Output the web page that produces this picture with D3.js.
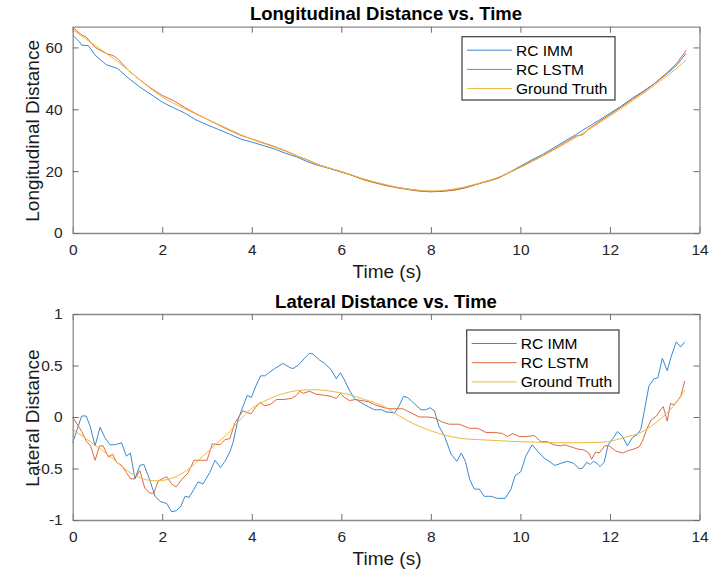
<!DOCTYPE html>
<html>
<head>
<meta charset="utf-8">
<script src="https://cdn.jsdelivr.net/npm/d3@7"></script>
<style>
  body { margin: 0; background: #fff; }
  svg { font-family: "Liberation Sans", Arial, sans-serif; }
</style>
</head>
<body>
<script>
// series names + colours (MATLAB defaults, a bit softened like the thin lines in the original)
const seriesNames = ["RC IMM", "RC LSTM", "Ground Truth"];
const seriesColors = ["#3a89d0", "#dc6a3c", "#eeb93c"];

const timeTicks = [0, 2, 4, 6, 8, 10, 12, 14];
const lonTicks = [0, 20, 40, 60];
const latTicks = [-1, -0.5, 0, 0.5, 1];

// longitudinal distance, [time, value]
const lonImm = [[0,64.0],[0.15,61.8],[0.2,60.7],[0.35,60.6],[0.5,57.5],[0.75,54.4],[1.0,53.2],[1.25,50.0],[1.5,47.2],[1.75,44.8],[2.0,42.3],[2.25,40.5],[2.5,38.8],[2.75,36.6],[3.0,35.0],[3.25,33.5],[3.5,32.0],[3.75,30.4],[4.0,29.4],[4.25,28.3],[4.5,27.2],[4.75,25.8],[5.0,24.6],[5.25,23.0],[5.5,21.8],[5.75,20.8],[6.0,19.7],[6.25,18.6],[6.5,17.3],[6.75,16.4],[7.0,15.5],[7.25,14.7],[7.5,14.2],[7.75,13.7],[8.0,13.4],[8.25,13.5],[8.5,13.9],[8.75,14.6],[9.0,15.7],[9.25,16.6],[9.5,17.8],[9.75,19.6],[10.0,21.6],[10.25,23.6],[10.5,25.4],[10.75,27.6],[11.0,29.8],[11.25,31.9],[11.5,34.2],[11.75,36.4],[12.0,38.7],[12.25,41.0],[12.5,43.6],[12.75,45.9],[13.0,48.4],[13.25,51.2],[13.5,54.4],[13.7,58.1]];
const lonLstm = [[0,66.5],[0.2,64.0],[0.3,63.4],[0.5,60.0],[0.75,58.0],[0.9,57.4],[1.0,56.4],[1.25,52.5],[1.5,49.5],[1.75,46.8],[2.0,44.5],[2.25,42.8],[2.5,40.6],[2.75,38.6],[3.0,36.8],[3.25,35.0],[3.5,33.2],[3.75,31.6],[4.0,30.4],[4.25,29.2],[4.5,28.0],[4.75,26.6],[5.0,25.0],[5.25,23.6],[5.5,22.0],[5.75,20.9],[6.0,19.8],[6.25,18.6],[6.5,17.2],[6.75,16.2],[7.0,15.3],[7.25,14.6],[7.5,14.0],[7.75,13.5],[8.0,13.3],[8.25,13.5],[8.5,13.8],[8.75,14.5],[9.0,15.6],[9.25,16.8],[9.5,17.7],[9.75,19.5],[10.0,21.3],[10.25,23.2],[10.5,25.0],[10.75,27.1],[11.0,29.3],[11.25,31.4],[11.4,31.8],[11.5,33.4],[11.75,35.9],[12.0,38.3],[12.25,40.7],[12.5,43.2],[12.75,45.6],[13.0,48.4],[13.25,51.5],[13.5,55.0],[13.7,59.1]];
const lonTruth = [[0,65.8],[0.5,60.6],[1.0,55.5],[1.5,49.5],[2.0,44.0],[2.5,40.2],[3.0,36.8],[3.5,33.5],[4.0,30.3],[4.5,27.8],[5.0,25.0],[5.5,22.0],[6.0,19.9],[6.5,17.5],[7.0,15.6],[7.5,14.2],[8.0,13.6],[8.5,14.2],[9.0,15.8],[9.5,18.0],[10.0,21.2],[10.5,24.9],[11.0,28.9],[11.5,33.2],[12.0,37.8],[12.5,42.7],[13.0,47.8],[13.5,53.4],[13.7,55.9]];

// lateral distance, [time, value]
const latImm = [[0,-0.25],[0.2,0.01],[0.3,0.01],[0.39,-0.09],[0.5,-0.28],[0.61,-0.10],[0.72,-0.20],[0.83,-0.27],[0.94,-0.27],[1.09,-0.25],[1.2,-0.38],[1.29,-0.35],[1.39,-0.60],[1.5,-0.47],[1.59,-0.46],[1.72,-0.61],[1.84,-0.77],[1.95,-0.82],[2.1,-0.84],[2.21,-0.92],[2.31,-0.91],[2.41,-0.87],[2.51,-0.77],[2.6,-0.78],[2.71,-0.70],[2.8,-0.63],[2.91,-0.65],[3.06,-0.54],[3.18,-0.42],[3.3,-0.49],[3.4,-0.43],[3.51,-0.34],[3.58,-0.25],[3.69,-0.03],[3.8,0.10],[3.9,0.21],[3.99,0.19],[4.1,0.31],[4.2,0.40],[4.29,0.40],[4.51,0.47],[4.7,0.52],[4.85,0.48],[4.92,0.47],[5.03,0.50],[5.18,0.57],[5.29,0.62],[5.37,0.61],[5.52,0.55],[5.63,0.52],[5.77,0.46],[5.89,0.37],[5.98,0.43],[6.07,0.36],[6.18,0.26],[6.29,0.18],[6.44,0.14],[6.6,0.10],[6.74,0.07],[6.9,0.07],[7.0,0.05],[7.19,0.04],[7.28,0.10],[7.39,0.20],[7.48,0.19],[7.63,0.13],[7.78,0.07],[7.89,0.07],[7.98,0.09],[8.08,0.06],[8.18,-0.09],[8.3,-0.18],[8.45,-0.36],[8.58,-0.43],[8.68,-0.35],[8.77,-0.43],[8.87,-0.61],[8.97,-0.70],[9.08,-0.70],[9.19,-0.77],[9.34,-0.77],[9.49,-0.79],[9.66,-0.79],[9.79,-0.70],[9.88,-0.57],[10.01,-0.53],[10.12,-0.38],[10.26,-0.27],[10.34,-0.31],[10.42,-0.35],[10.53,-0.40],[10.64,-0.43],[10.77,-0.47],[10.9,-0.45],[11.05,-0.43],[11.19,-0.45],[11.31,-0.50],[11.38,-0.50],[11.48,-0.44],[11.56,-0.46],[11.63,-0.43],[11.71,-0.45],[11.78,-0.48],[11.87,-0.44],[11.96,-0.27],[12.08,-0.20],[12.17,-0.14],[12.28,-0.19],[12.39,-0.28],[12.5,-0.20],[12.61,-0.17],[12.69,-0.12],[12.76,0.04],[12.87,0.30],[12.98,0.37],[13.07,0.38],[13.17,0.57],[13.28,0.45],[13.37,0.59],[13.48,0.73],[13.58,0.68],[13.67,0.73]];
const latLstm = [[0,0],[0.13,-0.09],[0.2,-0.14],[0.31,-0.24],[0.4,-0.28],[0.5,-0.42],[0.6,-0.28],[0.68,-0.28],[0.8,-0.39],[0.89,-0.36],[0.98,-0.44],[1.09,-0.47],[1.2,-0.54],[1.29,-0.60],[1.39,-0.60],[1.5,-0.52],[1.61,-0.69],[1.72,-0.74],[1.81,-0.74],[1.91,-0.62],[2.1,-0.58],[2.21,-0.65],[2.31,-0.68],[2.43,-0.61],[2.58,-0.54],[2.71,-0.42],[2.88,-0.42],[3.0,-0.42],[3.12,-0.26],[3.29,-0.27],[3.4,-0.22],[3.51,-0.21],[3.62,-0.06],[3.8,0.06],[3.98,0.03],[4.08,0.09],[4.18,0.14],[4.29,0.11],[4.41,0.12],[4.55,0.17],[4.7,0.17],[4.89,0.18],[5.0,0.21],[5.07,0.25],[5.15,0.23],[5.29,0.25],[5.44,0.22],[5.63,0.21],[5.77,0.20],[5.89,0.18],[5.98,0.23],[6.07,0.19],[6.18,0.16],[6.33,0.17],[6.44,0.16],[6.6,0.15],[6.74,0.12],[6.96,0.09],[7.08,0.08],[7.23,0.08],[7.37,0.08],[7.56,0.04],[7.74,0.0],[7.93,0.0],[8.08,-0.01],[8.26,-0.05],[8.41,-0.07],[8.63,-0.07],[8.86,-0.11],[9.05,-0.11],[9.23,-0.15],[9.42,-0.15],[9.6,-0.16],[9.71,-0.19],[9.83,-0.16],[9.97,-0.19],[10.12,-0.19],[10.31,-0.18],[10.46,-0.24],[10.6,-0.24],[10.75,-0.27],[10.89,-0.28],[10.99,-0.27],[11.13,-0.29],[11.27,-0.31],[11.42,-0.32],[11.53,-0.35],[11.59,-0.41],[11.68,-0.34],[11.76,-0.35],[11.83,-0.31],[11.88,-0.28],[11.98,-0.28],[12.13,-0.33],[12.28,-0.35],[12.39,-0.33],[12.54,-0.31],[12.65,-0.29],[12.72,-0.24],[12.83,-0.11],[12.92,-0.03],[13.04,0.01],[13.13,0.07],[13.19,0.10],[13.28,-0.04],[13.35,0.13],[13.44,0.12],[13.58,0.20],[13.67,0.35]];
const latTruth = [[0,-0.12],[0.39,-0.24],[0.83,-0.38],[1.28,-0.54],[1.65,-0.61],[1.9,-0.62],[2.17,-0.60],[2.54,-0.52],[2.91,-0.38],[3.29,-0.23],[3.51,-0.14],[3.69,-0.05],[3.99,0.08],[4.36,0.17],[4.73,0.23],[5.1,0.26],[5.4,0.265],[5.77,0.25],[6.15,0.22],[6.52,0.17],[6.96,0.10],[7.15,0.05],[7.45,-0.03],[7.74,-0.09],[8.04,-0.14],[8.34,-0.18],[8.71,-0.21],[9.08,-0.22],[9.53,-0.23],[9.97,-0.24],[10.42,-0.245],[10.75,-0.25],[11.42,-0.25],[11.94,-0.24],[12.31,-0.20],[12.69,-0.15],[12.98,-0.07],[13.28,0.04],[13.5,0.15],[13.67,0.26]];

const svg = d3.select("body").append("svg")
  .attr("width", 710).attr("height", 575);

function panel(opt) {
  const x = d3.scaleLinear().domain([0, 14]).range([72.7, 699.5]);
  const y = d3.scaleLinear().domain(opt.yDomain).range([opt.bottom, opt.top]);
  const g = svg.append("g");
  const tick = 6;

  // data lines first, axes on top
  const line = d3.line().x(d => x(d[0])).y(d => y(d[1]));
  const smooth = d3.line().curve(d3.curveMonotoneX).x(d => x(d[0])).y(d => y(d[1]));
  [opt.series[0], opt.series[1]].forEach((s, i) => {
    g.append("path").datum(s).attr("d", line)
      .attr("fill", "none").attr("stroke", seriesColors[i]).attr("stroke-width", 1);
  });
  g.append("path").datum(opt.series[2]).attr("d", smooth)
    .attr("fill", "none").attr("stroke", seriesColors[2]).attr("stroke-width", 1);

  const fmt = d => String(d);
  const axes = [
    [d3.axisBottom(x).tickValues(timeTicks).tickFormat(fmt).tickSizeInner(-tick).tickPadding(tick + 5), "translate(0," + opt.bottom + ")"],
    [d3.axisTop(x).tickValues(timeTicks).tickFormat("").tickSizeInner(-tick), "translate(0," + opt.top + ")"],
    [d3.axisLeft(y).tickValues(opt.yTicks).tickFormat(fmt).tickSizeInner(-tick).tickPadding(tick + 4), "translate(72.7,0)"],
    [d3.axisRight(y).tickValues(opt.yTicks).tickFormat("").tickSizeInner(-tick), "translate(699.5,0)"]
  ];
  axes.forEach(a => {
    const ag = g.append("g").attr("transform", a[1]).call(a[0].tickSizeOuter(0));
    ag.select(".domain").attr("stroke", "#8a8a8a").attr("stroke-width", 1.3);
    ag.selectAll(".tick line").attr("stroke", "#6e6e6e").attr("stroke-width", 1);
    ag.selectAll(".tick text").attr("fill", "#262626").style("font-size", "15.5px")
      .style("font-family", "'Liberation Sans', Arial, sans-serif");
  });

  g.append("text").attr("x", 386).attr("y", opt.top - 6.5)
    .attr("text-anchor", "middle").style("font-size", "18.5px").style("font-weight", "bold")
    .attr("fill", "#000").text(opt.title);
  g.append("text").attr("x", 387).attr("y", opt.bottom + 45)
    .attr("text-anchor", "middle").style("font-size", "19px")
    .attr("fill", "#1a1a1a").text("Time (s)");
  g.append("text").attr("transform", "translate(38.5," + ((opt.top + opt.bottom) / 2 + 1) + ") rotate(-90)")
    .attr("text-anchor", "middle").style("font-size", "19px")
    .attr("fill", "#1a1a1a").text(opt.ylabel);

  // legend
  const L = opt.legend;
  const lg = g.append("g");
  lg.append("rect").attr("x", L.x).attr("y", L.y).attr("width", L.w).attr("height", L.h)
    .attr("fill", "#fff").attr("stroke", "#3a3a3a").attr("stroke-width", 1.2);
  seriesNames.forEach((name, i) => {
    const yy = L.y + 13.5 + i * 19.2;
    lg.append("line").attr("x1", L.x + 5).attr("x2", L.x + 50).attr("y1", yy).attr("y2", yy)
      .attr("stroke", seriesColors[i]).attr("stroke-width", 1);
    lg.append("text").attr("x", L.x + 54).attr("y", yy).attr("dy", "0.35em")
      .style("font-size", "15.5px").attr("fill", "#000").text(name);
  });
}

panel({
  top: 26.7, bottom: 233, yDomain: [0, 66.7], yTicks: lonTicks,
  title: "Longitudinal Distance vs. Time", ylabel: "Longitudinal Distance",
  series: [lonImm, lonLstm, lonTruth],
  legend: {x: 462, y: 36.7, w: 153, h: 63.3}
});
panel({
  top: 314, bottom: 520, yDomain: [-1, 1], yTicks: latTicks,
  title: "Lateral Distance vs. Time", ylabel: "Lateral Distance",
  series: [latImm, latLstm, latTruth],
  legend: {x: 466.7, y: 330, w: 152.3, h: 63}
});
</script>
</body>
</html>
